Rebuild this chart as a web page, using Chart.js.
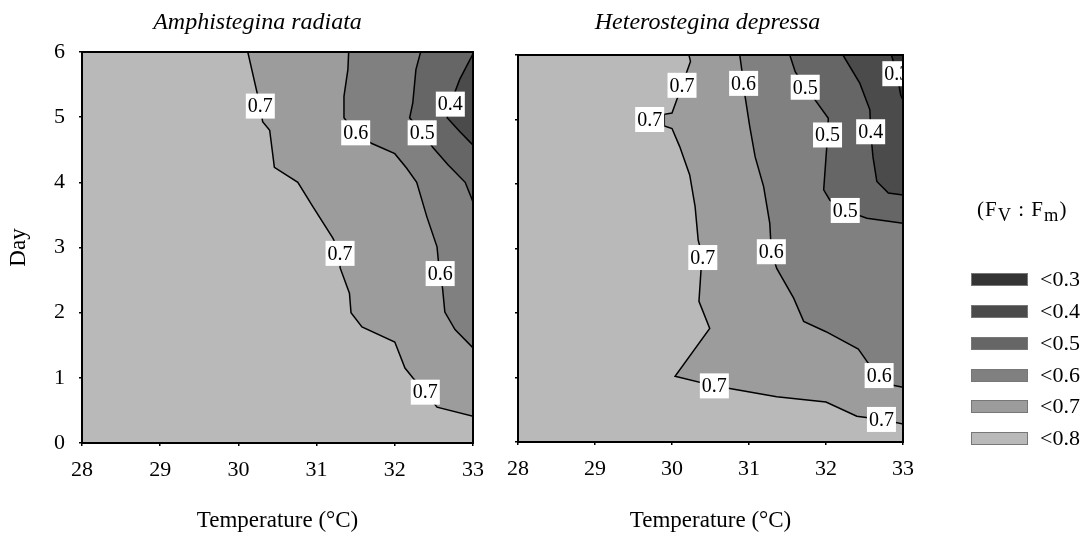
<!DOCTYPE html>
<html>
<head>
<meta charset="utf-8">
<script src="https://cdn.jsdelivr.net/npm/chart.js@4.4.1/dist/chart.umd.min.js"></script>
<style>
  body { margin: 0; background: #fff; }
  #wrap { position: relative; width: 1089px; height: 533px; background: #fff; font-family: "Liberation Serif", "DejaVu Serif", serif; }
  #wrap canvas { position: absolute; left: 0; top: 0; }
  #legendTitle { position: absolute; left: 977px; top: 197px; font-size: 21px; letter-spacing: 1px; white-space: nowrap; }
  #legendTitle sub { font-size: 88%; }
  .legendRow { position: absolute; left: 971px; height: 14px; }
  .legendRow span.box { position: absolute; left: 0; top: 0; width: 55px; height: 11px; border: 1px solid #777; }
  .legendRow span.txt { position: absolute; left: 69px; top: -7px; font-size: 22px; line-height: 26px; white-space: nowrap; }
</style>
</head>
<body>
<div id="wrap">
  <canvas id="ampCanvas" width="1089" height="533"></canvas>
  <canvas id="hetCanvas" width="1089" height="533"></canvas>
  <div id="legendTitle">(F<sub>V</sub> : F<sub>m</sub>)</div>
  <div id="legendRows"></div>
</div>
<script>
  // Axis ranges
  const temperatureTicks = [28, 29, 30, 31, 32, 33];
  const dayTicks = [0, 1, 2, 3, 4, 5, 6];

  // Fv:Fm classes (legend) and their grey shades
  const levels = ["<0.3", "<0.4", "<0.5", "<0.6", "<0.7", "<0.8"];
  const shades = ["#343434", "#4b4b4b", "#666666", "#808080", "#9c9c9c", "#b9b9b9"];

  // Contour lines: [temperature, day]
  // Amphistegina radiata
  const amp07 = [[30.12, 6], [30.24, 5.37], [30.28, 5.17], [30.31, 4.93], [30.40, 4.80], [30.46, 4.23], [30.76, 4.00], [30.95, 3.63], [31.21, 3.14], [31.30, 2.91], [31.30, 2.69], [31.42, 2.30], [31.44, 2.00], [31.58, 1.78], [32.00, 1.55], [32.13, 1.15], [32.23, 1.00], [32.39, 0.78], [32.54, 0.55], [33, 0.41]];
  const amp06 = [[31.41, 6], [31.40, 5.73], [31.35, 5.32], [31.35, 4.99], [31.50, 4.76], [31.70, 4.60], [32.00, 4.44], [32.15, 4.22], [32.28, 4.00], [32.41, 3.47], [32.54, 3.01], [32.56, 2.76], [32.58, 2.60], [32.61, 2.38], [32.64, 2.01], [32.77, 1.74], [33, 1.46]];
  const amp05 = [[32.33, 6], [32.27, 5.73], [32.23, 5.22], [32.19, 4.99], [32.35, 4.76], [32.49, 4.53], [32.68, 4.27], [32.90, 4.00], [33, 3.70]];
  const amp04 = [[33, 5.97], [32.83, 5.58], [32.71, 5.20], [32.67, 4.99], [32.83, 4.78], [33, 4.57]];
  const ampLabels = [[30.28, 5.17, "0.7"], [31.50, 4.76, "0.6"], [32.35, 4.76, "0.5"], [32.71, 5.20, "0.4"], [31.30, 2.91, "0.7"], [32.58, 2.60, "0.6"], [32.39, 0.78, "0.7"]];

  // Heterostegina depressa
  const het07 = [[30.22, 6], [30.24, 5.9], [30.13, 5.53], [30.06, 5.3], [30.0, 5.1], [29.9, 5.08], [29.9, 4.9], [30.0, 4.86], [30.1, 4.58], [30.23, 4.14], [30.3, 3.65], [30.34, 3.13], [30.40, 2.86], [30.38, 2.72], [30.35, 2.18], [30.49, 1.76], [30.04, 1.02], [30.55, 0.87], [30.75, 0.83], [31.36, 0.70], [32.0, 0.62], [32.4, 0.40], [32.72, 0.35], [33, 0.28]];
  const het06 = [[30.88, 6], [30.93, 5.56], [30.95, 5.35], [31.01, 4.89], [31.08, 4.42], [31.19, 3.96], [31.27, 3.39], [31.29, 2.95], [31.36, 2.69], [31.58, 2.23], [31.71, 1.87], [32.0, 1.71], [32.42, 1.44], [32.55, 1.22], [32.69, 1.03], [32.87, 0.88], [33, 0.85]];
  const het05 = [[31.53, 6], [31.6, 5.74], [31.73, 5.5], [31.86, 5.3], [32.03, 5.02], [32.02, 4.76], [32.01, 4.58], [31.97, 3.91], [32.05, 3.75], [32.25, 3.59], [32.53, 3.47], [33, 3.39]];
  const het04 = [[32.22, 6], [32.44, 5.56], [32.57, 5.15], [32.58, 4.81], [32.61, 4.42], [32.66, 4.04], [32.81, 3.86], [33, 3.83]];
  const het03 = [[32.85, 6], [32.92, 5.71], [32.97, 5.38], [33, 5.3]];
  const hetLabels = [[30.13, 5.53, "0.7"], [29.71, 5.0, "0.7"], [30.93, 5.56, "0.6"], [31.73, 5.50, "0.5"], [32.02, 4.76, "0.5"], [32.58, 4.81, "0.4"], [32.92, 5.71, "0.3"], [32.25, 3.59, "0.5"], [30.40, 2.86, "0.7"], [31.29, 2.95, "0.6"], [30.55, 0.87, "0.7"], [32.69, 1.03, "0.6"], [32.72, 0.35, "0.7"]];

  const serif = "'Liberation Serif', 'DejaVu Serif', serif";
  const tMax = temperatureTicks[temperatureTicks.length - 1];
  const dMax = dayTicks[dayTicks.length - 1];

  // One contour line; the region to its right (up to the top-right corner) is filled with its class shade
  function contourSet(points, shade) {
    const shape = points.concat([[tMax, dMax]]);
    return {
      data: shape.map(p => ({ x: p[0], y: p[1] })),
      borderColor: "#000",
      borderWidth: 1.5,
      pointRadius: 0,
      tension: 0,
      fill: "shape",
      backgroundColor: shade
    };
  }

  // Background shade, contour labels, frame and panel title
  const contourExtras = {
    id: "contourExtras",
    beforeDatasetsDraw(chart) {
      const { ctx, chartArea: a } = chart;
      ctx.save();
      ctx.fillStyle = shades[5];
      ctx.fillRect(a.left, a.top, a.right - a.left, a.bottom - a.top);
      ctx.restore();
    },
    afterDatasetsDraw(chart, args, opts) {
      const { ctx, chartArea: a, scales } = chart;
      ctx.save();
      ctx.beginPath();
      ctx.rect(a.left, a.top, a.right - a.left, a.bottom - a.top);
      ctx.clip();
      ctx.font = "20px " + serif;
      ctx.textAlign = "center";
      ctx.textBaseline = "middle";
      opts.labels.forEach(l => {
        const x = scales.x.getPixelForValue(l[0]);
        const y = scales.y.getPixelForValue(l[1]);
        const w = ctx.measureText(l[2]).width + 4;
        ctx.fillStyle = "#fff";
        ctx.fillRect(x - w / 2, y - 12.5, w, 25);
        ctx.fillStyle = "#000";
        ctx.fillText(l[2], x, y + 1);
      });
      ctx.restore();

      ctx.save();
      ctx.strokeStyle = "#000";
      ctx.lineWidth = 2;
      ctx.strokeRect(a.left, a.top, a.right - a.left, a.bottom - a.top);
      ctx.restore();
    },
    afterDraw(chart, args, opts) {
      const { ctx, chartArea: a } = chart;
      ctx.save();
      ctx.font = "italic 24px " + serif;
      ctx.fillStyle = "#000";
      ctx.textAlign = "center";
      ctx.textBaseline = "middle";
      ctx.fillText(opts.title, (a.left + a.right) / 2 + opts.shift, 23);
      ctx.restore();
    }
  };

  function panelOptions(cfg) {
    return {
      responsive: false,
      animation: false,
      layout: { padding: cfg.padding },
      plugins: {
        legend: { display: false },
        tooltip: { enabled: false },
        contourExtras: { labels: cfg.labels, title: cfg.title, shift: cfg.shift }
      },
      scales: {
        x: {
          type: "linear",
          position: "bottom",
          min: temperatureTicks[0],
          max: tMax,
          afterFit: s => { s.height = cfg.xHeight; },
          ticks: { stepSize: 1, padding: 11, color: "#000", font: { family: serif, size: 22 } },
          grid: { drawOnChartArea: false, tickLength: 3, color: "#000", lineWidth: 1.5 },
          border: { display: false },
          title: { display: true, text: "Temperature (°C)", color: "#000", padding: { top: 0, bottom: -2 }, font: { family: serif, size: 23 } }
        },
        y: {
          type: "linear",
          position: "left",
          min: dayTicks[0],
          max: dMax,
          afterFit: s => { s.width = cfg.yWidth; },
          ticks: {
            stepSize: 1, padding: 14, color: "#000", font: { family: serif, size: 22 },
            callback: v => cfg.dayLabels ? v : ""
          },
          grid: { drawOnChartArea: false, tickLength: 3, color: "#000", lineWidth: 1.5 },
          border: { display: false },
          title: { display: cfg.dayLabels, text: "Day", color: "#000", padding: { top: 5 }, font: { family: serif, size: 23 } }
        }
      }
    };
  }

  // Amphistegina radiata panel
  const ampChart = new Chart(document.getElementById("ampCanvas"), {
    type: "line",
    data: {
      datasets: [
        contourSet(amp04, shades[1]),
        contourSet(amp05, shades[2]),
        contourSet(amp06, shades[3]),
        contourSet(amp07, shades[4])
      ]
    },
    options: panelOptions({
      padding: { left: 0, right: 616, top: 52, bottom: 0 },
      xHeight: 90, yWidth: 82, dayLabels: true,
      labels: ampLabels, title: "Amphistegina radiata", shift: -20
    }),
    plugins: [contourExtras]
  });

  // Heterostegina depressa panel
  const hetChart = new Chart(document.getElementById("hetCanvas"), {
    type: "line",
    data: {
      datasets: [
        contourSet(het03, shades[0]),
        contourSet(het04, shades[1]),
        contourSet(het05, shades[2]),
        contourSet(het06, shades[3]),
        contourSet(het07, shades[4])
      ]
    },
    options: panelOptions({
      padding: { left: 508, right: 186, top: 55, bottom: 0 },
      xHeight: 91, yWidth: 10, dayLabels: false,
      labels: hetLabels, title: "Heterostegina depressa", shift: -3
    }),
    plugins: [contourExtras]
  });

  // Legend of the Fv:Fm classes
  const legendRows = document.getElementById("legendRows");
  const rowTops = [273, 305, 337, 369, 400, 432];
  levels.forEach((lvl, i) => {
    const row = document.createElement("div");
    row.className = "legendRow";
    row.style.top = rowTops[i] + "px";
    row.innerHTML = `<span class="box" style="background:${shades[i]}"></span><span class="txt">${lvl.replace("<", "&lt;")}</span>`;
    legendRows.appendChild(row);
  });
</script>
</body>
</html>
